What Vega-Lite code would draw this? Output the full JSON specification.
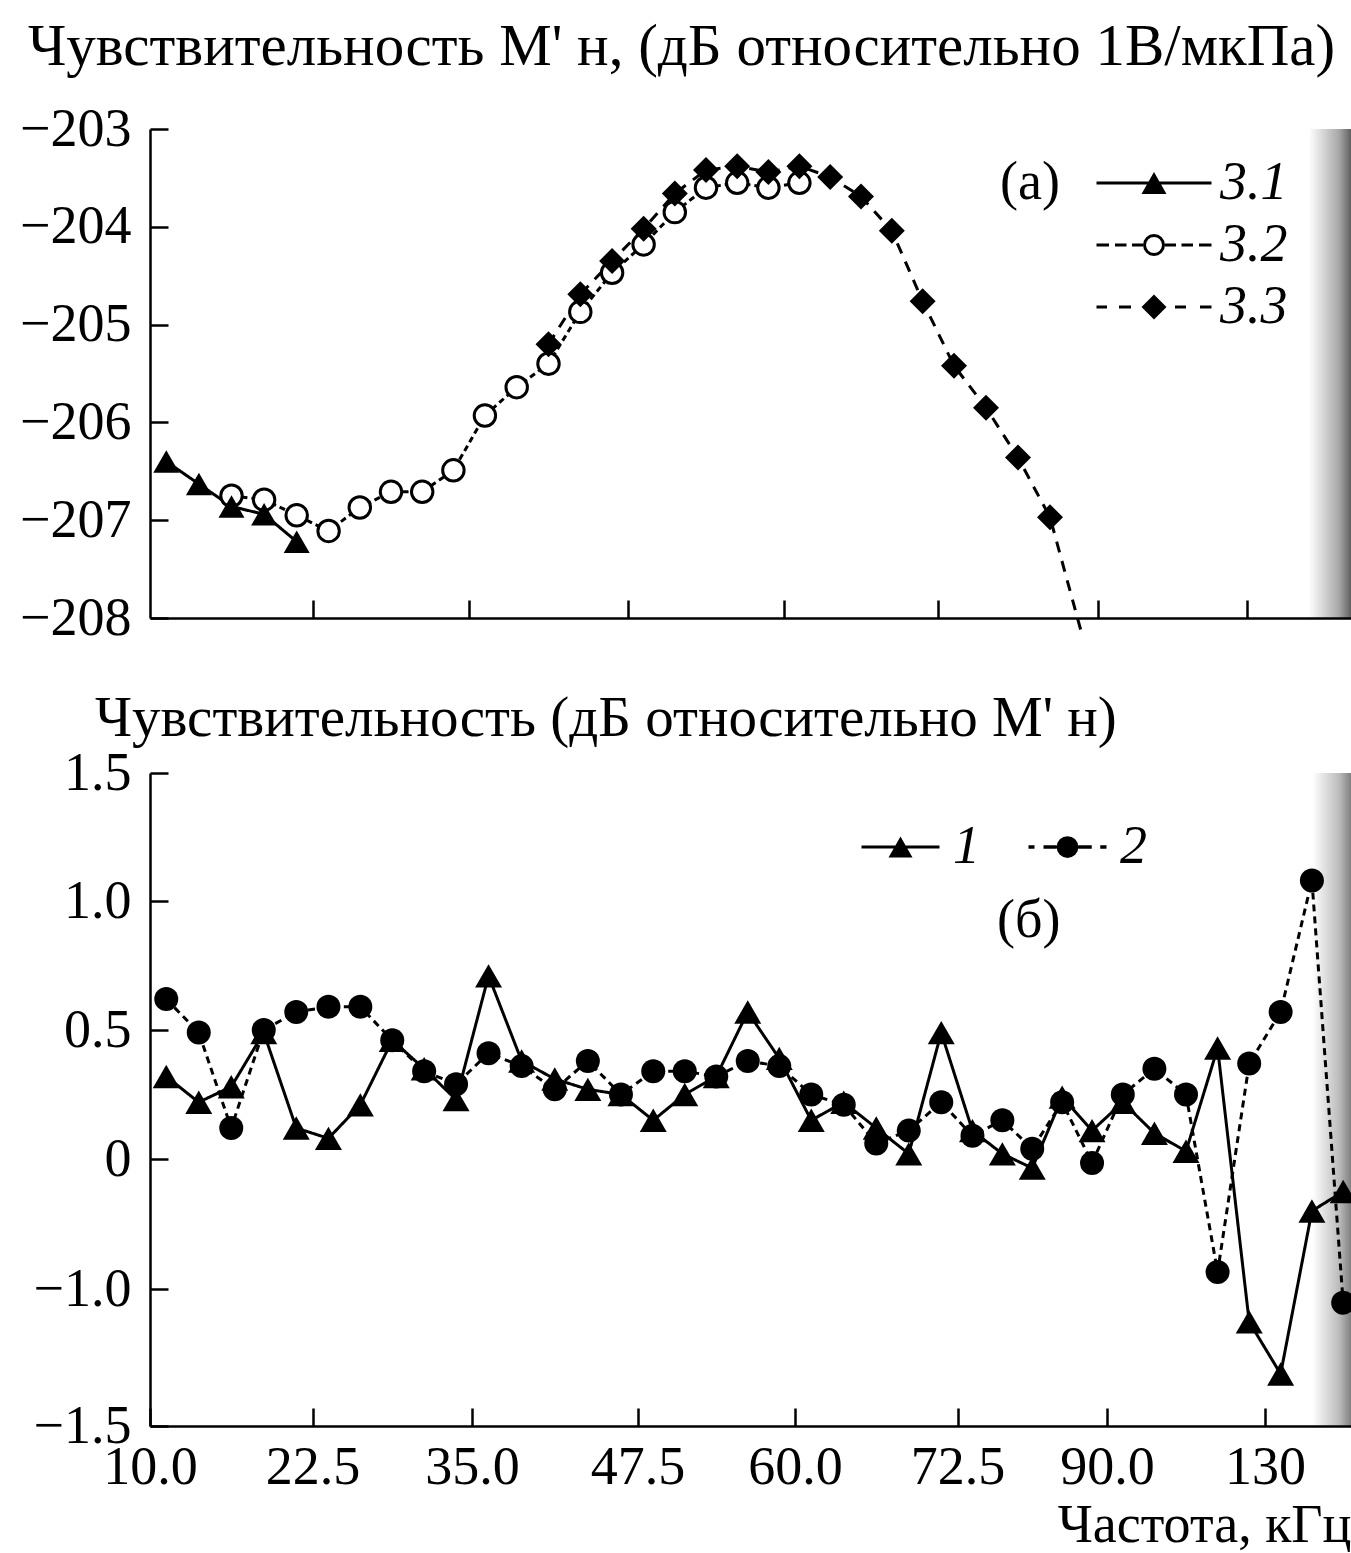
{
  "$schema": "https://vega.github.io/schema/vega-lite/v6.json",
  "background": "white",
  "padding": {"left": 19, "top": 18, "right": 0, "bottom": 0},
  "bounds": "flush",
  "spacing": 155,
  "resolve": {"scale": {"strokeDash": "independent"}, "legend": {"strokeDash": "independent"}},
  "config": {
    "font": "Liberation Serif",
    "view": {"stroke": null},
    "axis": {
      "domainColor": "black", "domainWidth": 2.5,
      "tickColor": "black", "tickWidth": 2.5, "tickSize": -18,
      "labelFont": "Liberation Serif", "labelFontSize": 54, "labelColor": "black",
      "labelFlush": false, "labelOverlap": false, "labelBound": false,
      "grid": false,
      "titleFont": "Liberation Serif", "titleFontSize": 54, "titleFontWeight": "normal", "titleColor": "black"
    },
    "axisY": {"labelPadding": 37},
    "axisX": {"labelPadding": 32},
    "title": {
      "font": "Liberation Serif", "fontWeight": "normal", "color": "black",
      "anchor": "start", "frame": "group", "baseline": "alphabetic"
    },
    "legend": {
      "orient": "none", "padding": 0,
      "labelFont": "Liberation Serif", "labelFontSize": 54, "labelFontStyle": "italic", "labelColor": "black",
      "titleFont": "Liberation Serif", "titleFontSize": 54, "titleFontWeight": "normal", "titleColor": "black",
      "symbolSize": 625, "symbolFillColor": "black", "symbolStrokeWidth": 0, "symbolOpacity": 1
    }
  },
  "vconcat": [
    {
      "width": 1201,
      "height": 489,
      "view": {
        "stroke": null,
        "fill": {"gradient": "linear", "x1": 0, "y1": 0, "x2": 1, "y2": 0,
          "stops": [{"offset": 0, "color": "#ffffff"}, {"offset": 0.965, "color": "#ffffff"}, {"offset": 0.99, "color": "#a8a8a8"}, {"offset": 1, "color": "#606060"}]}
      },
      "title": {"text": "Чувствительность М' н, (дБ относительно 1В/мкПа)", "fontSize": 59, "dx": -122, "offset": 25},
      "data": {"values": [
        {"freq": 11.25, "series": "3.1", "value": -206.40},
        {"freq": 13.75, "series": "3.1", "value": -206.63},
        {"freq": 16.25, "series": "3.1", "value": -206.86},
        {"freq": 18.75, "series": "3.1", "value": -206.94},
        {"freq": 21.25, "series": "3.1", "value": -207.22},
        {"freq": 16.25, "series": "3.2", "value": -206.75},
        {"freq": 18.75, "series": "3.2", "value": -206.79},
        {"freq": 21.25, "series": "3.2", "value": -206.95},
        {"freq": 23.75, "series": "3.2", "value": -207.11},
        {"freq": 26.25, "series": "3.2", "value": -206.87},
        {"freq": 28.75, "series": "3.2", "value": -206.71},
        {"freq": 31.25, "series": "3.2", "value": -206.71},
        {"freq": 33.75, "series": "3.2", "value": -206.49},
        {"freq": 36.25, "series": "3.2", "value": -205.93},
        {"freq": 38.75, "series": "3.2", "value": -205.64},
        {"freq": 41.25, "series": "3.2", "value": -205.40},
        {"freq": 43.75, "series": "3.2", "value": -204.87},
        {"freq": 46.25, "series": "3.2", "value": -204.47},
        {"freq": 48.75, "series": "3.2", "value": -204.18},
        {"freq": 51.25, "series": "3.2", "value": -203.85},
        {"freq": 53.75, "series": "3.2", "value": -203.60},
        {"freq": 56.25, "series": "3.2", "value": -203.55},
        {"freq": 58.75, "series": "3.2", "value": -203.60},
        {"freq": 61.25, "series": "3.2", "value": -203.55},
        {"freq": 41.25, "series": "3.3", "value": -205.20},
        {"freq": 43.75, "series": "3.3", "value": -204.69},
        {"freq": 46.25, "series": "3.3", "value": -204.35},
        {"freq": 48.75, "series": "3.3", "value": -204.02},
        {"freq": 51.25, "series": "3.3", "value": -203.66},
        {"freq": 53.75, "series": "3.3", "value": -203.42},
        {"freq": 56.25, "series": "3.3", "value": -203.38},
        {"freq": 58.75, "series": "3.3", "value": -203.44},
        {"freq": 61.25, "series": "3.3", "value": -203.38},
        {"freq": 63.75, "series": "3.3", "value": -203.49},
        {"freq": 66.25, "series": "3.3", "value": -203.69},
        {"freq": 68.75, "series": "3.3", "value": -204.04},
        {"freq": 71.25, "series": "3.3", "value": -204.76},
        {"freq": 74.25, "series": "3.3", "value": -205.42},
        {"freq": 77.75, "series": "3.3", "value": -205.85},
        {"freq": 81.25, "series": "3.3", "value": -206.36},
        {"freq": 84.75, "series": "3.3", "value": -206.97},
        {"freq": 88.25, "series": "3.3", "value": -208.17}
      ]},
      "encoding": {
        "x": {
          "field": "freq", "type": "quantitative",
          "scale": {"domain": [10, 22.5, 35, 47.5, 60, 72.5, 90, 130, 158], "range": [0, 163, 319, 478, 634, 788, 948, 1097, 1201], "nice": false, "zero": false},
          "axis": {"values": [22.5, 35, 47.5, 60, 72.5, 90, 130], "labels": false, "title": null}
        },
        "y": {
          "field": "value", "type": "quantitative",
          "scale": {"domain": [-208, -203], "nice": false, "zero": false},
          "axis": {"values": [-208, -207, -206, -205, -204, -203], "title": null,
            "labelExpr": "replace(format(datum.value, 'd'), '-', '−')"}
        }
      },
      "layer": [
        {
          "mark": {"type": "line", "color": "black", "strokeWidth": 3},
          "encoding": {
            "strokeDash": {
              "field": "series", "type": "nominal",
              "scale": {"domain": ["3.1", "3.2", "3.3"], "range": [[1, 0], [6, 4], [11, 9]]},
              "legend": {
                "legendX": 850, "legendY": 27,
                "title": "(а)", "titleOrient": "left", "titleAnchor": "start", "titleBaseline": "top", "titlePadding": 22,
                "labelOffset": 84, "rowPadding": 8,
                "symbolType": {"expr": "datum.value === '3.1' ? 'M-1,-0.12H8.2V0.12H-1Z M3.6,-0.88L4.6,0.88H2.6Z' : datum.value === '3.2' ? 'M-1,-0.12H0V0.12H-1Z M0.48,-0.12H1.4V0.12H0.48Z M1.84,-0.12H2.72V0.12H1.84Z M4.48,-0.12H5.36V0.12H4.48Z M5.8,-0.12H6.72V0.12H5.8Z M7.2,-0.12H8.2V0.12H7.2Z M4.48,0L4.413,0.3368L4.2223,0.6223L3.9368,0.813L3.6,0.88L3.2632,0.813L2.9777,0.6223L2.787,0.3368L2.72,0L2.787,-0.3368L2.9777,-0.6223L3.2632,-0.813L3.6,-0.88L3.9368,-0.813L4.2223,-0.6223L4.413,-0.3368Z M4.24,0L4.1913,-0.2449L4.0525,-0.4525L3.8449,-0.5913L3.6,-0.64L3.3551,-0.5913L3.1475,-0.4525L3.0087,-0.2449L2.96,0L3.0087,0.2449L3.1475,0.4525L3.3551,0.5913L3.6,0.64L3.8449,0.5913L4.0525,0.4525L4.1913,0.2449Z' : 'M-1,-0.12H-0.16V0.12H-1Z M0.8,-0.12H1.76V0.12H0.8Z M2.6,0L3.6,-1L4.6,0L3.6,1Z M5.28,-0.12H6.16V0.12H5.28Z M7.28,-0.12H8.2V0.12H7.28Z'"}
              }
            }
          }
        },
        {
          "transform": [{"filter": "datum.series === '3.2'"}],
          "mark": {"type": "point", "shape": "circle", "filled": true, "fill": "white", "stroke": "black", "strokeWidth": 3, "size": 460, "opacity": 1}
        },
        {
          "transform": [{"filter": "datum.series === '3.1'"}],
          "mark": {"type": "point", "shape": "triangle-up", "filled": true, "color": "black", "size": 676, "opacity": 1}
        },
        {
          "transform": [{"filter": "datum.series === '3.3' && datum.value >= -208"}],
          "mark": {"type": "point", "shape": "diamond", "filled": true, "color": "black", "size": 676, "opacity": 1}
        }
      ]
    },
    {
      "width": 1201,
      "height": 653,
      "view": {
        "stroke": null,
        "fill": {"gradient": "linear", "x1": 0, "y1": 0, "x2": 1, "y2": 0,
          "stops": [{"offset": 0, "color": "#ffffff"}, {"offset": 0.968, "color": "#ffffff"}, {"offset": 0.99, "color": "#bcbcbc"}, {"offset": 1, "color": "#808080"}]}
      },
      "title": {"text": "Чувствительность (дБ относительно М' н)", "fontSize": 57, "dx": -55, "offset": -2},
      "data": {"values": [
        {"freq": 11.25, "series": "1", "value": 0.32}, {"freq": 11.25, "series": "2", "value": 0.62},
        {"freq": 13.75, "series": "1", "value": 0.22}, {"freq": 13.75, "series": "2", "value": 0.49},
        {"freq": 16.25, "series": "1", "value": 0.28}, {"freq": 16.25, "series": "2", "value": 0.12},
        {"freq": 18.75, "series": "1", "value": 0.49}, {"freq": 18.75, "series": "2", "value": 0.50},
        {"freq": 21.25, "series": "1", "value": 0.12}, {"freq": 21.25, "series": "2", "value": 0.57},
        {"freq": 23.75, "series": "1", "value": 0.08}, {"freq": 23.75, "series": "2", "value": 0.59},
        {"freq": 26.25, "series": "1", "value": 0.21}, {"freq": 26.25, "series": "2", "value": 0.59},
        {"freq": 28.75, "series": "1", "value": 0.46}, {"freq": 28.75, "series": "2", "value": 0.46},
        {"freq": 31.25, "series": "1", "value": 0.35}, {"freq": 31.25, "series": "2", "value": 0.34},
        {"freq": 33.75, "series": "1", "value": 0.23}, {"freq": 33.75, "series": "2", "value": 0.29},
        {"freq": 36.25, "series": "1", "value": 0.71}, {"freq": 36.25, "series": "2", "value": 0.41},
        {"freq": 38.75, "series": "1", "value": 0.38}, {"freq": 38.75, "series": "2", "value": 0.36},
        {"freq": 41.25, "series": "1", "value": 0.31}, {"freq": 41.25, "series": "2", "value": 0.27},
        {"freq": 43.75, "series": "1", "value": 0.27}, {"freq": 43.75, "series": "2", "value": 0.38},
        {"freq": 46.25, "series": "1", "value": 0.25}, {"freq": 46.25, "series": "2", "value": 0.25},
        {"freq": 48.75, "series": "1", "value": 0.15}, {"freq": 48.75, "series": "2", "value": 0.34},
        {"freq": 51.25, "series": "1", "value": 0.25}, {"freq": 51.25, "series": "2", "value": 0.34},
        {"freq": 53.75, "series": "1", "value": 0.32}, {"freq": 53.75, "series": "2", "value": 0.32},
        {"freq": 56.25, "series": "1", "value": 0.57}, {"freq": 56.25, "series": "2", "value": 0.38},
        {"freq": 58.75, "series": "1", "value": 0.39}, {"freq": 58.75, "series": "2", "value": 0.36},
        {"freq": 61.25, "series": "1", "value": 0.15}, {"freq": 61.25, "series": "2", "value": 0.25},
        {"freq": 63.75, "series": "1", "value": 0.22}, {"freq": 63.75, "series": "2", "value": 0.21},
        {"freq": 66.25, "series": "1", "value": 0.12}, {"freq": 66.25, "series": "2", "value": 0.06},
        {"freq": 68.75, "series": "1", "value": 0.02}, {"freq": 68.75, "series": "2", "value": 0.11},
        {"freq": 71.25, "series": "1", "value": 0.49}, {"freq": 71.25, "series": "2", "value": 0.22},
        {"freq": 74.25, "series": "1", "value": 0.11}, {"freq": 74.25, "series": "2", "value": 0.09},
        {"freq": 77.75, "series": "1", "value": 0.02}, {"freq": 77.75, "series": "2", "value": 0.15},
        {"freq": 81.25, "series": "1", "value": -0.07}, {"freq": 81.25, "series": "2", "value": 0.04},
        {"freq": 84.75, "series": "1", "value": 0.24}, {"freq": 84.75, "series": "2", "value": 0.22},
        {"freq": 88.25, "series": "1", "value": 0.11}, {"freq": 88.25, "series": "2", "value": -0.03},
        {"freq": 94, "series": "1", "value": 0.22}, {"freq": 94, "series": "2", "value": 0.25},
        {"freq": 102, "series": "1", "value": 0.10}, {"freq": 102, "series": "2", "value": 0.35},
        {"freq": 110, "series": "1", "value": 0.03}, {"freq": 110, "series": "2", "value": 0.25},
        {"freq": 118, "series": "1", "value": 0.43}, {"freq": 118, "series": "2", "value": -0.87},
        {"freq": 126, "series": "1", "value": -1.12}, {"freq": 126, "series": "2", "value": 0.37},
        {"freq": 134, "series": "1", "value": -1.31}, {"freq": 134, "series": "2", "value": 0.57},
        {"freq": 142, "series": "1", "value": -0.40}, {"freq": 142, "series": "2", "value": 1.08},
        {"freq": 150, "series": "1", "value": -0.25}, {"freq": 150, "series": "2", "value": -1.05}
      ]},
      "encoding": {
        "x": {
          "field": "freq", "type": "quantitative",
          "scale": {"domain": [10, 22.5, 35, 47.5, 60, 72.5, 90, 130, 152], "range": [0, 162.5, 322, 487.5, 645, 807.5, 957, 1115, 1201], "nice": false, "zero": false},
          "axis": {"values": [10, 22.5, 35, 47.5, 60, 72.5, 90, 130], "title": "Частота, кГц", "titleAnchor": "end", "titlePadding": 4,
            "labelExpr": "datum.value === 130 ? '130' : format(datum.value, '.1f')"}
        },
        "y": {
          "field": "value", "type": "quantitative",
          "scale": {"domain": [-1.5, -1, 0, 0.5, 1, 1.5], "range": [653, 516, 386, 257, 128, 0], "nice": false, "zero": false},
          "axis": {"values": [-1.5, -1, 0, 0.5, 1, 1.5], "title": null,
            "labelExpr": "datum.value === 0 ? '0' : replace(format(datum.value, '.1f'), '-', '−')"}
        }
      },
      "layer": [
        {
          "mark": {"type": "line", "color": "black", "strokeWidth": 3},
          "encoding": {
            "strokeDash": {
              "field": "series", "type": "nominal",
              "scale": {"domain": ["1", "2"], "range": [[1, 0], [7, 5]]},
              "legend": {
                "legendX": 697, "legendY": 47, "direction": "horizontal",
                "title": "(б)", "titleOrient": "bottom", "titleAnchor": "middle", "titleAlign": "left", "titlePadding": 20,
                "labelOffset": 52, "columnPadding": 34,
                "symbolType": {"expr": "datum.value === '1' ? 'M-1,-0.12H5.24V0.12H-1Z M2.12,-0.84L3.08,0.84H1.16Z' : 'M-1,-0.14H-0.52V0.14H-1Z M0.2,-0.14H1.26V0.14H0.2Z M2.98,-0.14H4.06V0.14H2.98Z M4.74,-0.14H5.24V0.14H4.74Z M2.99,0L2.9238,0.3329L2.7352,0.6152L2.4529,0.8038L2.12,0.87L1.7871,0.8038L1.5048,0.6152L1.3162,0.3329L1.25,0L1.3162,-0.3329L1.5048,-0.6152L1.7871,-0.8038L2.12,-0.87L2.4529,-0.8038L2.7352,-0.6152L2.9238,-0.3329Z'"}
              }
            }
          }
        },
        {
          "transform": [{"filter": "datum.series === '2'"}],
          "mark": {"type": "point", "shape": "circle", "filled": true, "color": "black", "size": 576, "opacity": 1}
        },
        {
          "transform": [{"filter": "datum.series === '1'"}],
          "mark": {"type": "point", "shape": "triangle-up", "filled": true, "color": "black", "size": 729, "opacity": 1}
        }
      ]
    }
  ]
}
